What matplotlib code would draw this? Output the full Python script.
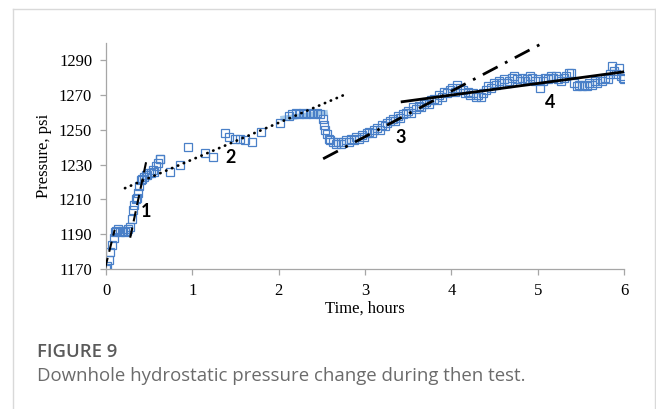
import matplotlib
matplotlib.use("Agg")
import matplotlib.pyplot as plt
from matplotlib.lines import Line2D

# measured pressure (hours, psi)
time_h = [0.0, 0.01, 0.03, 0.05, 0.07, 0.09, 0.10, 0.12, 0.14, 0.16, 0.18, 0.20,
          0.22, 0.24, 0.26, 0.28, 0.30, 0.315, 0.33, 0.35, 0.36, 0.375, 0.385,
          0.40, 0.42, 0.44, 0.46, 0.48, 0.50, 0.52, 0.54, 0.56, 0.58, 0.60,
          0.62, 0.63, 0.74, 0.86, 0.95, 1.15, 1.24, 1.38, 1.42, 1.49, 1.55,
          1.61, 1.69, 1.80, 2.02, 2.12, 2.16, 2.20, 2.24, 2.28, 2.32, 2.36,
          2.40, 2.44, 2.48, 2.51, 2.52, 2.54, 2.56, 2.58,
          2.60, 2.63, 2.66, 2.69, 2.72, 2.75, 2.78, 2.81, 2.84, 2.87, 2.90,
          2.93, 2.96, 2.99, 3.02, 3.05, 3.08, 3.11, 3.14, 3.17, 3.20, 3.23,
          3.26, 3.29, 3.32, 3.35, 3.38, 3.41, 3.44, 3.47, 3.50, 3.53, 3.56,
          3.59, 3.62, 3.65, 3.68, 3.71, 3.74, 3.77, 3.80, 3.83, 3.86, 3.89,
          3.92, 3.95, 3.98, 4.01, 4.04, 4.07, 4.10, 4.13, 4.16, 4.19, 4.22,
          4.25, 4.28, 4.31, 4.34, 4.37, 4.40, 4.43, 4.46, 4.49, 4.52, 4.55,
          4.58, 4.61, 4.64, 4.67, 4.70, 4.73, 4.76, 4.79, 4.82, 4.85, 4.88,
          4.91, 4.94, 4.97, 5.00, 5.03, 5.06, 5.09, 5.12, 5.15, 5.18, 5.21,
          5.24, 5.27, 5.30, 5.33, 5.36, 5.39, 5.42, 5.45, 5.48, 5.51, 5.54,
          5.57, 5.60, 5.63, 5.66, 5.69, 5.72, 5.75, 5.78, 5.81, 5.84, 5.86,
          5.88, 5.91, 5.94, 5.96, 5.99, 6.0]
pressure = [1170, 1172, 1175, 1180, 1184, 1188, 1191, 1192, 1193, 1191, 1192, 1192,
            1191, 1192, 1193, 1194, 1199, 1204, 1207, 1210, 1211, 1214, 1218,
            1221, 1222, 1223, 1224, 1224, 1225, 1225, 1227, 1226, 1229, 1231,
            1233, 1233, 1226, 1230, 1240, 1237, 1234.4, 1248.5, 1246, 1244.6, 1244.6,
            1244.3, 1243.3, 1249, 1254, 1258, 1259, 1260, 1259, 1260, 1259, 1260,
            1259, 1260, 1259, 1256, 1253, 1250, 1247.4, 1245,
            1244.3, 1243, 1242, 1243, 1242, 1243, 1244, 1243, 1245, 1244, 1246,
            1245, 1247, 1246, 1248, 1249, 1248, 1250, 1251, 1250, 1253, 1252,
            1254, 1255, 1256, 1255, 1258, 1257, 1259, 1260, 1261, 1260, 1263,
            1262, 1264, 1263, 1265, 1266, 1265, 1267, 1268, 1267, 1270, 1269,
            1272, 1271, 1273, 1274, 1272, 1276, 1274, 1273, 1271, 1272, 1270,
            1271, 1269, 1270, 1269, 1271, 1273, 1275, 1274, 1277, 1276, 1278,
            1277, 1279, 1277, 1278, 1280, 1281, 1279, 1278, 1280, 1278, 1279,
            1281, 1280, 1278, 1279, 1274, 1278, 1280, 1279, 1281, 1280, 1281,
            1279, 1278, 1280, 1281, 1282.5, 1283, 1277, 1275, 1276, 1275, 1276,
            1275, 1277, 1276, 1278, 1277, 1279, 1278, 1280, 1279, 1282, 1286.5,
            1284, 1282, 1285.5, 1281, 1280, 1279]

# straight-line fits drawn on the chart: (t0, t1), (p0, p1)
fit1a = [(-0.01, 0.10), (1170.6, 1192.5)]
fit1b = [(0.28, 0.475), (1188, 1234)]
fit2 = [(0.22, 2.79), (1216.5, 1270.8)]
fit3 = [(2.515, 5.06), (1233.4, 1300)]
fit4 = [(3.43, 6.01), (1266.2, 1283.5)]
band = [(2.02, 2.57), (1256.4, 1260)]

labels = ["1", "2", "3", "4"]
label_t = [0.46, 1.44, 3.41, 5.14]
label_p = [1202.8, 1234, 1245.5, 1265.6]

fig = plt.figure(figsize=(6.56, 4.09), dpi=100)
ax = fig.add_axes([0.1616, 0.3423, 0.7896, 0.5526])

ax.plot(band[0], band[1], color="#a8cbe8", lw=4, solid_capstyle="butt", zorder=1)
ax.plot(time_h, pressure, ls="none", marker="s", ms=5.6, mfc="none",
        mec="#4a80c8", mew=0.9, zorder=2)
ax.plot(fit1a[0], fit1a[1], color="black", lw=1.5, ls=(0, (5, 3)), zorder=3)
ax.plot(fit1b[0], fit1b[1], color="black", lw=1.5, ls=(0, (5, 3)), zorder=3)
ax.plot(fit2[0], fit2[1], color="black", lw=2, ls=(0, (0.1, 2.2)),
        dash_capstyle="round", zorder=3)
ax.plot(fit3[0], fit3[1], color="black", lw=2, ls=(0, (6, 3, 1, 3)), zorder=3)
ax.plot(fit4[0], fit4[1], color="black", lw=2, zorder=3)

for s, x, y in zip(labels, label_t, label_p):
    ax.text(x, y, s, fontsize=13, fontweight="bold", family="Lato",
            ha="center", va="center")

ax.set_xlim(0, 6)
ax.set_ylim(1170, 1300)
ax.set_xticks(range(0, 7))
ax.set_yticks(range(1170, 1291, 20))
for sp in ["top", "right"]:
    ax.spines[sp].set_visible(False)
for sp in ["left", "bottom"]:
    ax.spines[sp].set_color("#a6a6a6")
    ax.spines[sp].set_linewidth(0.9)
ax.tick_params(length=4, width=0.9, color="#a6a6a6")
ax.tick_params(axis="y", pad=6)
ax.tick_params(axis="x", pad=6)
for lab in ax.get_xticklabels() + ax.get_yticklabels():
    lab.set_family("Liberation Serif")
    lab.set_fontsize(12)
ax.set_xlabel("Time, hours", family="Liberation Serif", fontsize=12, labelpad=1)
ax.set_ylabel("Pressure, psi", family="Liberation Serif", fontsize=12, labelpad=5)

# frame around figure panel
fig.add_artist(Line2D([13 / 656, 13 / 656], [0, 1 - 9 / 409], color="#d9d9d9", lw=1))
fig.add_artist(Line2D([13 / 656, 655 / 656], [1 - 9 / 409, 1 - 9 / 409], color="#d9d9d9", lw=1))
fig.add_artist(Line2D([655 / 656, 655 / 656], [0, 1 - 9 / 409], color="#d9d9d9", lw=1))

fig.text(37 / 656, 1 - 352 / 409, "FIGURE 9", fontsize=13.3, fontweight="semibold",
         family="Open Sans", color="#5a5a5a", va="center")
fig.text(37 / 656, 1 - 376 / 409, "Downhole hydrostatic pressure change during then test.",
         fontsize=13.4, family="Open Sans", color="#6b6b6b", va="center")

fig.savefig("out.png", dpi=100)
